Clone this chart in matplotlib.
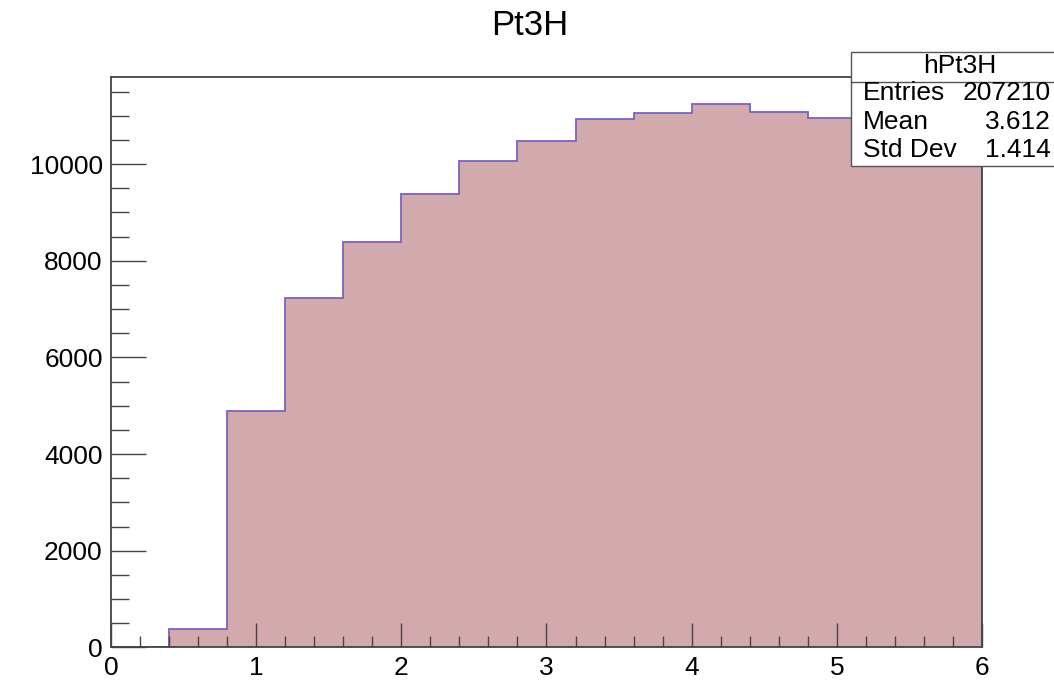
import numpy as np
import matplotlib
matplotlib.use("Agg")
import matplotlib.pyplot as plt
from matplotlib.ticker import MultipleLocator

plt.rcParams['font.family'] = ['Liberation Sans', 'DejaVu Sans']

# histogram contents (bin width 0.4, 0..6)
bin_edges = np.linspace(0, 6, 16)
counts = [0, 383, 4900, 7229, 8387, 9379, 10055, 10476, 10924,
          11055, 11241, 11082, 10958, 10850, 10700]

title = "Pt3H"
stats_name = "hPt3H"
stats_labels = ["Entries", "Mean", "Std Dev"]
stats_values = ["207210", "3.612", "1.414"]

fig = plt.figure(figsize=(10.54, 6.81), dpi=100)
ax = fig.add_axes([0.1053, 0.0492, 0.8264, 0.8377])

fill_col = "#d2a9ad"
line_col = "#7664c6"
ax.stairs(counts, bin_edges, fill=True, facecolor=fill_col, edgecolor="none")
ax.stairs(counts, bin_edges, fill=False, color=line_col, linewidth=1.3)

ax.set_xlim(0, 6)
ax.set_ylim(0, 11800)
ax.xaxis.set_major_locator(MultipleLocator(1))
ax.xaxis.set_minor_locator(MultipleLocator(0.2))
ax.yaxis.set_major_locator(MultipleLocator(2000))
ax.yaxis.set_minor_locator(MultipleLocator(500))

for s in ax.spines.values():
    s.set_color("#444444")
    s.set_linewidth(1.3)
    s.set_zorder(5)

ax.tick_params(which="both", direction="in", top=False, right=False,
               color="#444444", width=1.0)
ax.tick_params(axis="y", which="major", length=25, labelsize=19, pad=6)
ax.tick_params(axis="y", which="minor", length=13)
ax.tick_params(axis="x", which="major", length=17, labelsize=19, pad=6)
ax.tick_params(axis="x", which="minor", length=8)

fig.text(0.5025, 0.962, title, ha="center", va="center", fontsize=25)

# stats box (runs off the right edge like the original)
x0, x1 = 851 / 1054, 1069 / 1054
y_top, y_div, y_bot = 1 - 52 / 681, 1 - 82 / 681, 1 - 166 / 681
box = plt.Rectangle((x0, y_bot), x1 - x0, y_top - y_bot, transform=fig.transFigure,
                    facecolor="white", edgecolor="#555555", linewidth=1.0, clip_on=False)
fig.add_artist(box)
fig.add_artist(plt.Line2D([x0, x1], [y_div, y_div], transform=fig.transFigure,
                          color="#555555", linewidth=1.0))
fig.text((x0 + x1) / 2, 1 - 66 / 681, stats_name, ha="center", va="center", fontsize=19)
rows_y = [93, 122, 150]
for lab, val, yy in zip(stats_labels, stats_values, rows_y):
    fig.text(863 / 1054, 1 - yy / 681, lab, ha="left", va="center", fontsize=19)
    fig.text(1051 / 1054, 1 - yy / 681, val, ha="right", va="center", fontsize=19)

fig.savefig("out.png", dpi=100)
